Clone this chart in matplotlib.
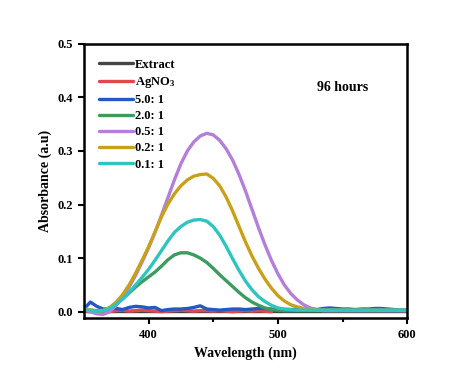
import numpy as np
import matplotlib.pyplot as plt

plt.rcParams['font.family'] = ['Liberation Serif', 'DejaVu Serif']
plt.rcParams['font.weight'] = 'bold'
plt.rcParams['mathtext.fontset'] = 'custom'
plt.rcParams['mathtext.rm'] = 'Liberation Serif:bold'
plt.rcParams['mathtext.bf'] = 'Liberation Serif:bold'
plt.rcParams['mathtext.default'] = 'bf'

# wavelength grid (nm), 5 nm steps
wavelength = list(range(350, 601, 5))

extract = [0.001] * 51
agno3 = [0.001, 0.000, 0.002, 0.001, 0.000, 0.002, 0.003, 0.001, 0.002, 0.003,
         0.002, 0.001, 0.000, 0.001, 0.002, 0.003, 0.002, 0.001, 0.002, 0.002,
         0.001, 0.002, 0.001, 0.000, 0.001, 0.002, 0.001, 0.002, 0.001, 0.000]
r50 = [0.005, 0.018, 0.010, 0.005, 0.005, 0.006, 0.004, 0.008, 0.010, 0.009,
       0.007, 0.008, 0.002, 0.004, 0.005, 0.005, 0.006, 0.008, 0.011, 0.005,
       0.004, 0.003, 0.004, 0.005, 0.005, 0.004, 0.005, 0.006, 0.006, 0.005,
       0.003, 0.004, 0.004, 0.005, 0.004, 0.005, 0.004, 0.006, 0.007, 0.006,
       0.005, 0.005, 0.004, 0.005, 0.005, 0.006, 0.006, 0.005, 0.004, 0.003,
       0.003]
r20 = [0.005, 0.003, 0.002, 0.003, 0.007, 0.014, 0.024, 0.035, 0.046, 0.056,
       0.065, 0.074, 0.085, 0.097, 0.106, 0.110, 0.110, 0.106, 0.100, 0.092,
       0.081, 0.069, 0.058, 0.047, 0.036, 0.026, 0.018, 0.012, 0.007, 0.004,
       0.003, 0.002, 0.002, 0.002, 0.002, 0.002, 0.002, 0.002, 0.002, 0.002,
       0.002, 0.002, 0.002, 0.002, 0.002, 0.002, 0.002, 0.002, 0.002, 0.002,
       0.002]
r05 = [0.004, 0.000, -0.004, -0.005, 0.000, 0.012, 0.027, 0.046, 0.068, 0.093,
       0.119, 0.148, 0.180, 0.213, 0.246, 0.276, 0.300, 0.317, 0.328, 0.333,
       0.330, 0.320, 0.304, 0.283, 0.256, 0.225, 0.191, 0.157, 0.125, 0.096,
       0.071, 0.050, 0.034, 0.022, 0.013, 0.007, 0.004, 0.002, 0.002, 0.002,
       0.002, 0.002, 0.002, 0.002, 0.002, 0.002, 0.002, 0.002, 0.002, 0.002,
       0.002]
r02 = [0.006, 0.003, 0.001, 0.002, 0.008, 0.018, 0.032, 0.050, 0.072, 0.096,
       0.121, 0.149, 0.177, 0.201, 0.220, 0.235, 0.246, 0.253, 0.256, 0.257,
       0.249, 0.235, 0.214, 0.188, 0.159, 0.130, 0.104, 0.081, 0.061, 0.044,
       0.030, 0.020, 0.013, 0.009, 0.006, 0.004, 0.003, 0.003, 0.003, 0.003,
       0.003, 0.003, 0.003, 0.003, 0.003, 0.003, 0.003, 0.003, 0.003, 0.003,
       0.003]
r01 = [0.004, 0.002, 0.001, 0.002, 0.006, 0.014, 0.024, 0.036, 0.050, 0.064,
       0.079, 0.096, 0.114, 0.132, 0.148, 0.159, 0.167, 0.171, 0.172, 0.169,
       0.159, 0.143, 0.122, 0.099, 0.077, 0.057, 0.041, 0.028, 0.019, 0.012,
       0.007, 0.005, 0.004, 0.003, 0.003, 0.003, 0.003, 0.003, 0.003, 0.003,
       0.003, 0.003, 0.003, 0.003, 0.003, 0.003, 0.003, 0.003, 0.003, 0.003,
       0.003]

fig = plt.figure(figsize=(4.74, 3.81), dpi=100)
ax = fig.add_axes([0.177, 0.165, 0.682, 0.72])

lw = 2.4
kw = dict(lw=lw, solid_joinstyle='round', solid_capstyle='round')
ax.plot(wavelength, extract, color='#454545', label='Extract', **kw)
ax.plot(wavelength[:len(agno3)], agno3, color='#e4474b', label='AgNO$_3$', **kw)
ax.plot(wavelength, r50, color='#2458c2', label='5.0: 1', **kw)
ax.plot(wavelength, r20, color='#3f9a60', label='2.0: 1', **kw)
ax.plot(wavelength, r05, color='#b47fd8', label='0.5: 1', **kw)
ax.plot(wavelength, r02, color='#c8a11c', label='0.2: 1', **kw)
ax.plot(wavelength, r01, color='#2ec5bf', label='0.1: 1', **kw)

ax.set_xlim(350, 600)
ax.set_ylim(-0.012, 0.5)
ax.set_xticks([400, 500, 600])
ax.set_xticks([450, 550], minor=True)
ax.set_yticks([0.0, 0.1, 0.2, 0.3, 0.4, 0.5])
ax.set_yticklabels(['0.0', '0.1', '0.2', '0.3', '0.4', '0.5'])
ax.tick_params(direction='out', width=1.5, length=4, labelsize=9)
ax.tick_params(which='minor', direction='out', width=1.5, length=3)
for s in ax.spines.values():
    s.set_linewidth(1.8)

ax.set_xlabel('Wavelength (nm)', fontsize=10, fontweight='bold')
ax.set_ylabel('Absorbance (a.u)', fontsize=10, fontweight='bold')
ax.text(0.8, 0.84, '96 hours', transform=ax.transAxes, ha='center',
        va='center', fontsize=10, fontweight='bold')

leg = ax.legend(loc='upper left', frameon=False, fontsize=9, handlelength=2.7,
                handletextpad=0.15, labelspacing=0.33, borderaxespad=0.8,
                borderpad=0.4)
for t in leg.get_texts():
    t.set_fontweight('bold')

fig.savefig('out.png', dpi=100)
